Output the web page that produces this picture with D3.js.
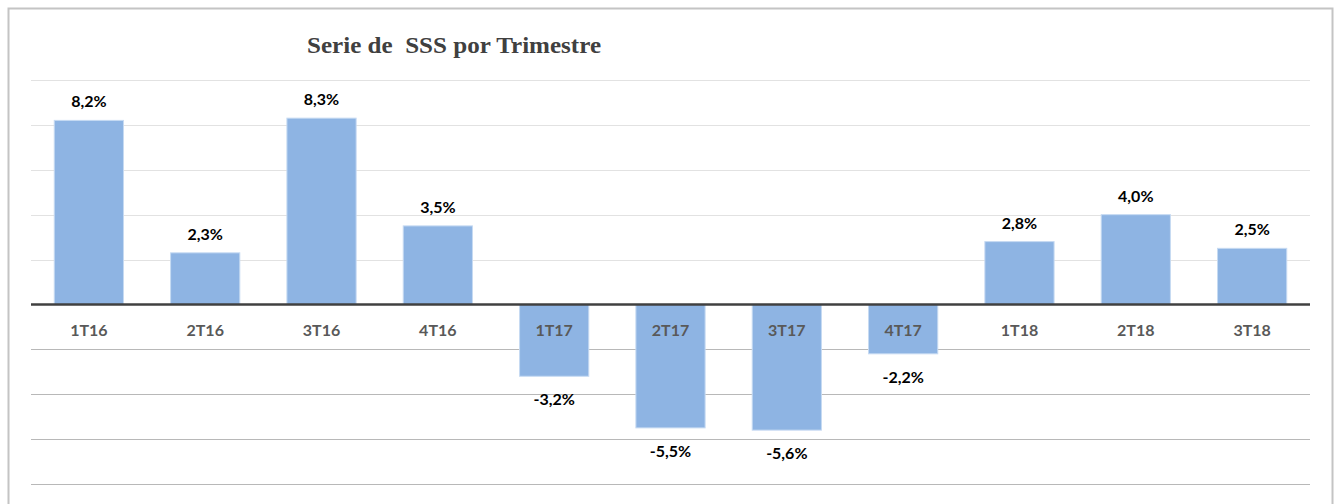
<!DOCTYPE html>
<html><head><meta charset="utf-8">
<script src="https://cdn.jsdelivr.net/npm/d3@7"></script>
<style>html,body{margin:0;padding:0;background:#fff;overflow:hidden}</style>
</head><body>
<svg id="c" width="1335" height="504"></svg>
<script>
const categories = ["1T16","2T16","3T16","4T16","1T17","2T17","3T17","4T17","1T18","2T18","3T18"];
const values = [8.2, 2.3, 8.3, 3.5, -3.2, -5.5, -5.6, -2.2, 2.8, 4.0, 2.5];
const gridTicks = [-8,-6,-4,-2,0,2,4,6,8,10];
const title = "Serie de  SSS por Trimestre";

const svg = d3.select("#c");
svg.append("rect").attr("x",8.5).attr("y",8.5).attr("width",1324).attr("height",520)
  .attr("fill","#fff").attr("stroke","#c4c4c4").attr("stroke-width",2);

const x = d3.scaleBand().domain(categories).range([31,1310]).paddingInner(0.405).paddingOuter(0.2);
const y = d3.scaleLinear().domain([-8,10]).range([484,80]);

svg.append("g").selectAll("line").data(gridTicks.filter(d=>d!==0)).join("line")
  .attr("x1",31).attr("x2",1310).attr("y1",d=>Math.round(y(d))+0.5).attr("y2",d=>Math.round(y(d))+0.5)
  .attr("stroke",d=>d>0?"#e2e2e2":"#b8b8b8").attr("stroke-width",1);

svg.append("g").selectAll("rect").data(values).join("rect")
  .attr("x",(d,i)=>x(categories[i])).attr("width",x.bandwidth())
  .attr("y",d=>y(Math.max(0,d))).attr("height",d=>Math.abs(y(d)-y(0)))
  .attr("fill","#8eb4e3").attr("stroke","#c6daf2").attr("stroke-width",1);

svg.append("line").attr("x1",31).attr("x2",1310).attr("y1",y(0)).attr("y2",y(0))
  .attr("stroke","#404040").attr("stroke-width",2.5);

svg.append("g").selectAll("text").data(categories).join("text")
  .attr("x",d=>x(d)+x.bandwidth()/2).attr("y",336)
  .attr("text-anchor","middle").attr("font-family","Lato").attr("font-weight","bold")
  .attr("font-size","16px").attr("fill","#595959").text(d=>d);

svg.append("g").selectAll("text").data(values).join("text")
  .attr("x",(d,i)=>x(categories[i])+x.bandwidth()/2)
  .attr("y",d=>d>=0? y(d)-13 : y(d)+29)
  .attr("text-anchor","middle").attr("font-family","Lato").attr("font-weight","bold")
  .attr("font-size","16px").attr("fill","#000")
  .text(d=>d.toFixed(1).replace(".",",")+"%");

svg.append("text").attr("x",307).attr("y",53)
  .attr("font-family","Liberation Serif").attr("font-weight","bold").attr("font-size","23px")
  .attr("fill","#404040").style("white-space","pre")
  .attr("textLength",294).attr("lengthAdjust","spacingAndGlyphs").text(title);
</script>
</body></html>
